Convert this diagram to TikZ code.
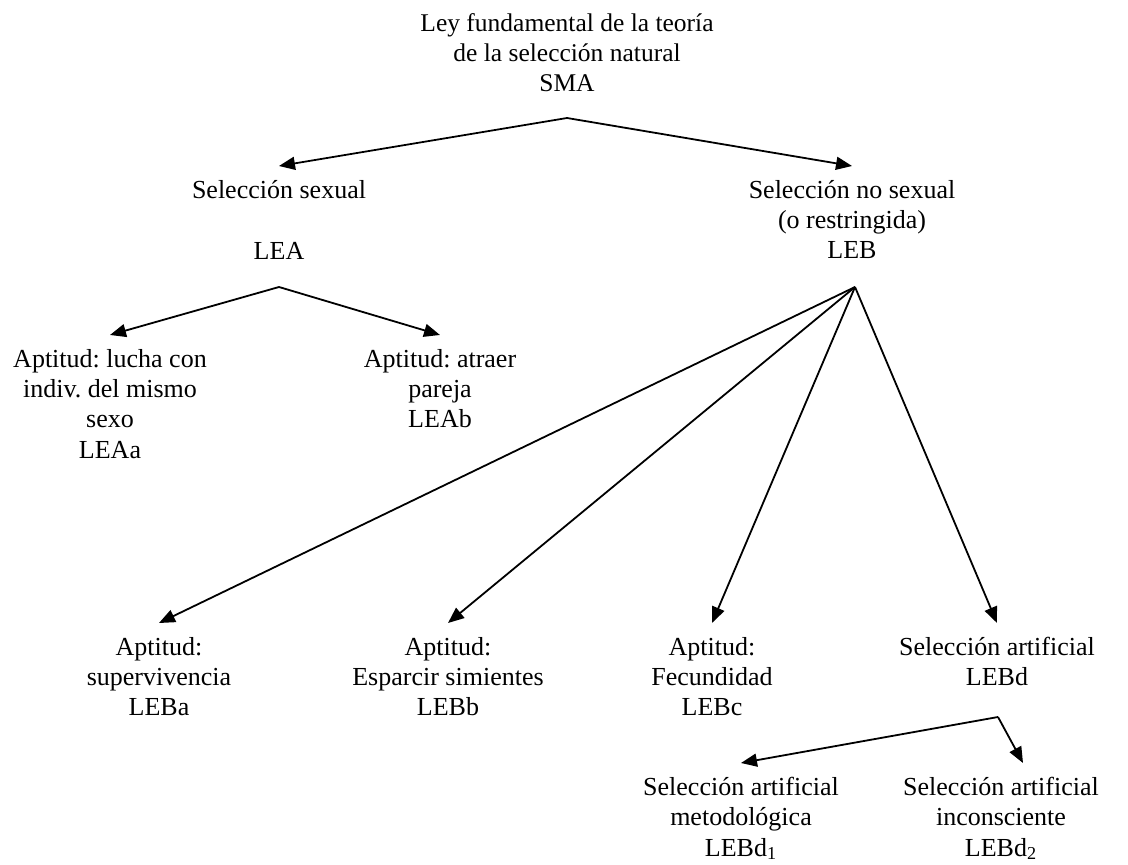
\documentclass[tikz,border=0pt]{standalone}
\usepackage{fontspec}
\setmainfont{Liberation Serif}
\usetikzlibrary{arrows.meta, positioning, calc}

\begin{document}
\begin{tikzpicture}[x=0.5pt, y=-0.5pt,
    lbl/.style={align=center, inner sep=0pt, outer sep=7pt, anchor=north, font=\fontsize{13}{15.2}\selectfont\frenchspacing},
    arr/.style={-{Triangle[length=8pt, width=6.5pt]}, line width=0.9pt}]
    \useasboundingbox (0,0) rectangle (1128,865);

    % Root law
    \node[lbl, outer sep=0pt, font=\fontsize{12.75}{15}\selectfont] (sma) at (567,14) {Ley fundamental de la teoría\\de la selección natural\\SMA};
    \coordinate (smaTip) at (567,118);

    % Sexual / non-sexual selection
    \node[lbl] (lea) at (279,166) {Selección sexual\\[15.5pt]LEA};
    \node[lbl] (leb) at (852,166) {Selección no sexual\\(o restringida)\\LEB};
    \draw[arr] (smaTip) -- (lea.north);
    \draw[arr] (smaTip) -- (leb.north);

    % LEA branch
    \coordinate (leaTip) at (279,287);
    \node[lbl] (leaa) at (110,335) {Aptitud: lucha con\\indiv. del mismo\\sexo\\LEAa};
    \node[lbl] (leab) at (440,335) {Aptitud: atraer\\pareja\\LEAb};
    \draw[arr] (leaTip) -- (leaa.north);
    \draw[arr] (leaTip) -- (leab.north);

    % LEB branch
    \coordinate (lebTip) at (855,287);
    \node[lbl] (leba) at (159,623) {Aptitud:\\supervivencia\\LEBa};
    \node[lbl] (lebb) at (448,623) {Aptitud:\\Esparcir simientes\\LEBb};
    \node[lbl] (lebc) at (712,623) {Aptitud:\\Fecundidad\\LEBc};
    \node[lbl] (lebd) at (997,623) {Selección artificial\\LEBd};
    \foreach \n in {leba, lebb, lebc, lebd}
        \draw[arr] (lebTip) -- (\n.north);

    % Artificial selection
    \coordinate (lebdTip) at (998,717);
    \node[lbl] (lebdi) at (741,763) {Selección artificial\\metodológica\\LEBd\textsubscript{1}};
    \node[lbl] (lebdii) at (1001,763) {Selección artificial\\inconsciente\\LEBd\textsubscript{2}};
    \draw[arr] (lebdTip) -- (lebdi.north);
    \draw[arr] (lebdTip) -- ([xshift=11pt]lebdii.north);
\end{tikzpicture}
\end{document}
